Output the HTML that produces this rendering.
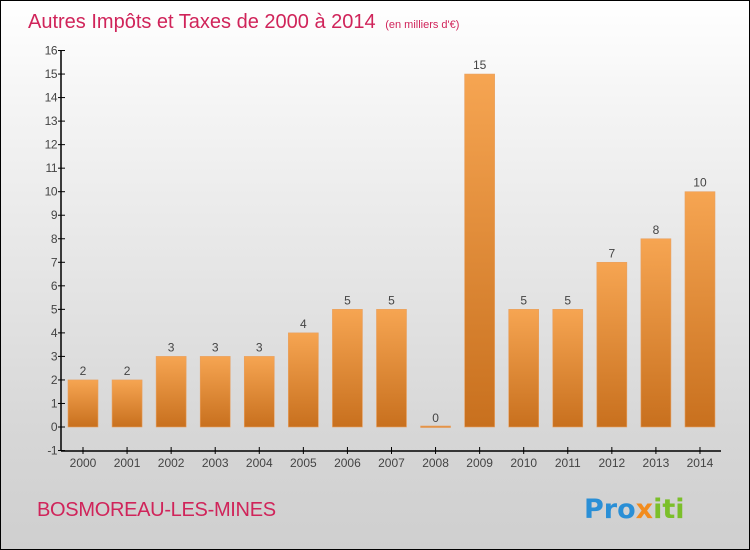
<!DOCTYPE html>
<html><head><meta charset="utf-8"><style>
body{margin:0}
#c{width:750px;height:550px;position:relative;overflow:hidden;background:linear-gradient(#ffffff,#f4f4f4 20%,#d6d6d6 80%,#cfcfcf);box-sizing:border-box;border:1px solid #000;font-family:"Liberation Sans",sans-serif}
</style></head><body>
<div id="c">
<svg width="750" height="550" style="position:absolute;left:0;top:0" id="s">
<defs><linearGradient id="g" x1="0" y1="0" x2="0" y2="1"><stop offset="0" stop-color="#f6a552"/><stop offset="1" stop-color="#c8701e"/></linearGradient></defs>
<text x="27" y="27" font-size="20" fill="#d0245a" font-family="Liberation Sans,sans-serif">Autres Impôts et Taxes de 2000 à 2014 <tspan font-size="11" dx="4">(en milliers d'€)</tspan></text>
<text x="36" y="515" font-size="20" fill="#d0245a" font-family="Liberation Sans,sans-serif" letter-spacing="-0.3">BOSMOREAU-LES-MINES</text>
<text x="583" y="517" font-size="27" font-weight="bold" font-family="DejaVu Sans,sans-serif"><tspan fill="#2a8fd6">Pro</tspan><tspan fill="#f28c1e">x</tspan><tspan fill="#7bbf2a">iti</tspan></text>
</svg>
<script>
const categories=["2000","2001","2002","2003","2004","2005","2006","2007","2008","2009","2010","2011","2012","2013","2014"];
const values=[2,2,3,3,3,4,5,5,0,15,5,5,7,8,10];
const yTicks=[-1,0,1,2,3,4,5,6,7,8,9,10,11,12,13,14,15,16];
const s=document.getElementById('s'),NS='http://www.w3.org/2000/svg';
const y=v=>426-v*23.53, x=i=>82+i*44.07;
function el(t,a,p){const e=document.createElementNS(NS,t);for(const k in a)e.setAttribute(k,a[k]);(p||s).appendChild(e);return e;}
let ax=el('line',{x1:60,y1:50,x2:60,y2:450,stroke:'#000','stroke-width':1.5});


let bx=el('line',{x1:60,y1:450,x2:720,y2:450,stroke:'#000','stroke-width':1.5});


yTicks.forEach(v=>{
 el('line',{x1:57,x2:64,y1:y(v),y2:y(v),stroke:'#000'});
 const t=el('text',{x:56,y:y(v)+4,'font-size':12,fill:'#444','text-anchor':'end','letter-spacing':'-0.5'});
 t.textContent=v;
 
 
});
categories.forEach((c,i)=>{
 const v=values[i],top=y(Math.max(v,0)),h=Math.max(Math.abs(y(v)-y(0)),1.5);
 const r=el('rect',{x:x(i)-15,y:v>0?top:y(0)-1,width:30,height:h,fill:'url(#g)',stroke:'#e8a060','stroke-width':0.6});
 
 
 const l=el('text',{x:x(i),y:(v>0?top:y(0))-5,'font-size':12,fill:'#444','text-anchor':'middle'});
 l.textContent=v;
 
 
 el('line',{x1:x(i),x2:x(i),y1:446,y2:453,stroke:'#000'});
 const t=el('text',{x:x(i),y:466,'font-size':12,fill:'#444','text-anchor':'middle'});
 t.textContent=c;
 
 
});
</script>
</div></body></html>
